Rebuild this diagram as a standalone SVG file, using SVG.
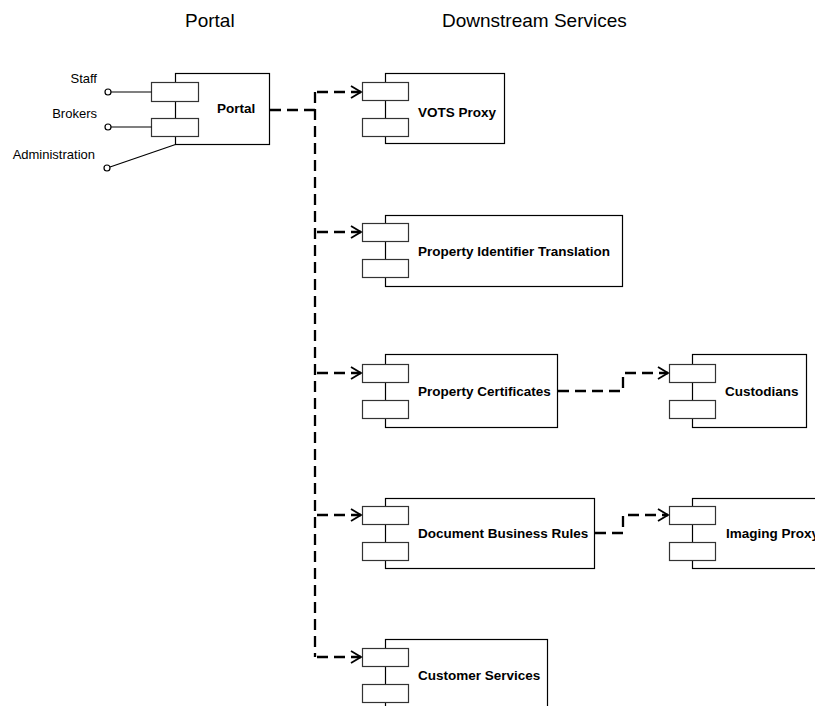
<svg xmlns="http://www.w3.org/2000/svg" width="815" height="706" viewBox="0 0 815 706">
<defs>
<style>
.box{fill:#fff;stroke:#000;stroke-width:1.2}
.port{fill:#fff;stroke:#333;stroke-width:1.2}
.lbl{font-family:"Liberation Sans",Arial,sans-serif;font-weight:bold;font-size:13.5px;fill:#000}
.small{font-family:"Liberation Sans",Arial,sans-serif;font-size:13px;fill:#000;text-anchor:end}
.title{font-family:"Liberation Sans",Arial,sans-serif;font-size:19px;fill:#000}
.dash{fill:none;stroke:#000;stroke-width:2.3;stroke-dasharray:11 6}
.iface{fill:none;stroke:#000;stroke-width:1.2}
.lolli{fill:#fff;stroke:#000;stroke-width:1.2}
</style>
<marker id="arr" markerUnits="userSpaceOnUse" markerWidth="14" markerHeight="16" refX="11" refY="7" orient="auto" viewBox="0 0 14 16">
<path d="M1 1 L11 7 L1 13" fill="none" stroke="#000" stroke-width="1.8"/>
</marker>
</defs>
<rect width="815" height="706" fill="#fff"/>

<text class="title" x="185" y="27">Portal</text>
<text class="title" x="442" y="27">Downstream Services</text>

<g id="portal">
<rect class="box" x="175.5" y="73.5" width="94" height="71"/>
<rect class="port" x="151.5" y="82.5" width="47" height="19"/>
<rect class="port" x="151.5" y="118.5" width="47" height="18"/>
<text class="lbl" x="217" y="113">Portal</text>
</g>

<g id="interfaces">
<line class="iface" x1="111" y1="92" x2="151.5" y2="92"/>
<circle class="lolli" cx="108" cy="92" r="3"/>
<text class="small" x="97" y="83">Staff</text>
<line class="iface" x1="111" y1="127" x2="151.5" y2="127"/>
<circle class="lolli" cx="108" cy="127" r="3"/>
<text class="small" x="97" y="118">Brokers</text>
<line class="iface" x1="110" y1="167" x2="175.5" y2="144.5"/>
<circle class="lolli" cx="107" cy="168" r="3"/>
<text class="small" x="95" y="159">Administration</text>
</g>

<g id="vots">
<rect class="box" x="385.5" y="73.5" width="119" height="70"/>
<rect class="port" x="362.5" y="82.5" width="46" height="18"/>
<rect class="port" x="362.5" y="118.5" width="46" height="18"/>
<text class="lbl" x="418" y="117">VOTS Proxy</text>
</g>

<g id="pit">
<rect class="box" x="385.5" y="215.5" width="237" height="71"/>
<rect class="port" x="362.5" y="223.5" width="46" height="18"/>
<rect class="port" x="362.5" y="259.5" width="46" height="18"/>
<text class="lbl" x="418" y="256">Property Identifier Translation</text>
</g>

<g id="pc">
<rect class="box" x="385.5" y="354.5" width="172" height="73"/>
<rect class="port" x="362.5" y="364.5" width="46" height="18"/>
<rect class="port" x="362.5" y="400.5" width="46" height="18"/>
<text class="lbl" x="418" y="396">Property Certificates</text>
</g>

<g id="custodians">
<rect class="box" x="692.5" y="354.5" width="114" height="73"/>
<rect class="port" x="669.5" y="364.5" width="46" height="18"/>
<rect class="port" x="669.5" y="400.5" width="46" height="18"/>
<text class="lbl" x="725" y="396">Custodians</text>
</g>

<g id="dbr">
<rect class="box" x="385.5" y="498.5" width="209" height="70"/>
<rect class="port" x="362.5" y="506.5" width="46" height="18"/>
<rect class="port" x="362.5" y="542.5" width="46" height="18"/>
<text class="lbl" x="418" y="538">Document Business Rules</text>
</g>

<g id="imaging">
<rect class="box" x="692.5" y="498.5" width="140" height="70"/>
<rect class="port" x="669.5" y="506.5" width="46" height="18"/>
<rect class="port" x="669.5" y="542.5" width="46" height="18"/>
<text class="lbl" x="726" y="538">Imaging Proxy</text>
</g>

<g id="cs">
<rect class="box" x="385.5" y="639.5" width="162" height="80"/>
<rect class="port" x="362.5" y="648.5" width="46" height="18"/>
<rect class="port" x="362.5" y="684.5" width="46" height="18"/>
<text class="lbl" x="418" y="680">Customer Services</text>
</g>

<g id="connectors">
<path class="dash" d="M270 110 H315"/>
<path class="dash" d="M315 92 V657"/>
<path class="dash" d="M317 92 H361" marker-end="url(#arr)"/>
<path class="dash" d="M317 232 H361" marker-end="url(#arr)"/>
<path class="dash" d="M317 373 H361" marker-end="url(#arr)"/>
<path class="dash" d="M317 515 H361" marker-end="url(#arr)"/>
<path class="dash" d="M317 657 H361" marker-end="url(#arr)"/>
<path class="dash" d="M558 391 H623 V373 H668" marker-end="url(#arr)"/>
<path class="dash" d="M595 533 H623 V515 H668" marker-end="url(#arr)"/>
</g>
</svg>
